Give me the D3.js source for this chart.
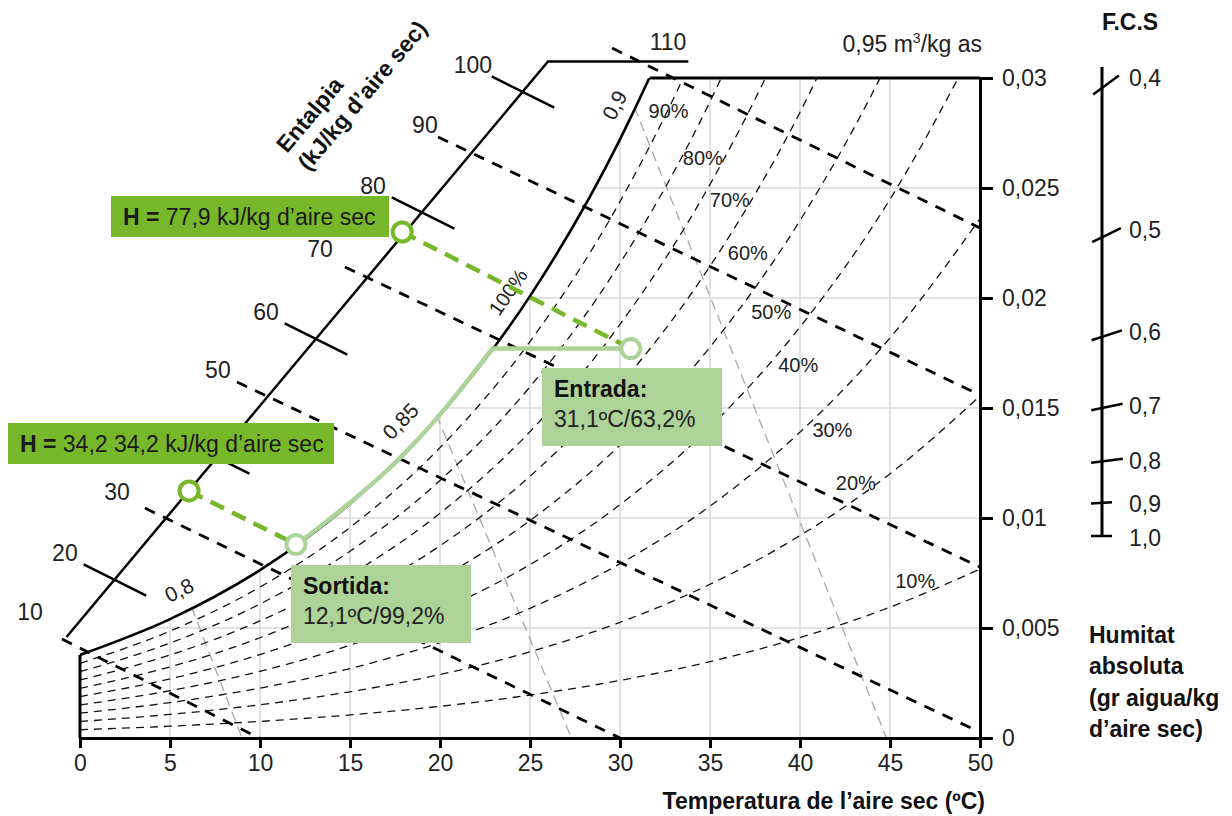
<!DOCTYPE html>
<html>
<head>
<meta charset="utf-8">
<script src="https://cdn.jsdelivr.net/npm/d3@7"></script>
<style>
  body { margin: 0; background: #fff; }
  svg text { font-family: "Liberation Sans", Arial, sans-serif; fill: #222; }
</style>
</head>
<body>
<div id="chart"></div>
<script>
// ---- data ----
var tempSteps = [0, 5, 10, 15, 20, 25, 30, 35, 40, 45, 50];   // ºC

// absolute humidity (kg/kg) of each relative humidity curve at tempSteps
var rhLevels = [10, 20, 30, 40, 50, 60, 70, 80, 90];
var rh10 = [0.000375, 0.000536, 0.000755, 0.001049, 0.001439, 0.001952, 0.002618, 0.003474, 0.004566, 0.005946, 0.007675];
var rh20 = [0.000751, 0.001073, 0.001512, 0.002101, 0.002885, 0.003916, 0.005258, 0.006988, 0.0092, 0.012007, 0.015543];
var rh30 = [0.001128, 0.001611, 0.00227, 0.003157, 0.004338, 0.005893, 0.00792, 0.010541, 0.013903, 0.018186, 0.023609];
var rh40 = [0.001504, 0.00215, 0.003031, 0.004217, 0.005797, 0.007882, 0.010605, 0.014135, 0.018677, 0.024486, 0.031882];
var rh50 = [0.001882, 0.00269, 0.003793, 0.00528, 0.007264, 0.009884, 0.013313, 0.01777, 0.023522, 0.030912, 0.04037];
var rh60 = [0.002259, 0.003231, 0.004557, 0.006347, 0.008737, 0.011898, 0.016045, 0.021446, 0.028442, 0.037467];
var rh70 = [0.002638, 0.003772, 0.005323, 0.007417, 0.010217, 0.013925, 0.0188, 0.025165, 0.033437, 0.044154];
var rh80 = [0.003016, 0.004315, 0.006091, 0.008491, 0.011704, 0.015966, 0.021579, 0.028927, 0.03851];
var rh90 = [0.003395, 0.004859, 0.00686, 0.009569, 0.013198, 0.018019, 0.024382, 0.032734, 0.043661];
var saturation = [0.003775, 0.005403, 0.007632, 0.01065, 0.014699, 0.020086, 0.02721, 0.036585, 0.048894];
var rhSeries = [rh10, rh20, rh30, rh40, rh50, rh60, rh70, rh80, rh90];
// where the % labels sit [ºC, kg/kg]
var rhLabelAt = [[46.4, 0.00714], [43.1, 0.01159], [41.8, 0.0140], [39.9, 0.01695], [38.4, 0.01936],
                 [37.1, 0.02205], [36.1, 0.02445], [34.6, 0.02636], [32.7, 0.0285]];

// specific volume lines (m3/kg), from the saturation curve to the bottom
var volumeValues = [0.8, 0.85, 0.9];
var volumeFrom = [[6.2, 0.00595], [19.8, 0.01468], [30.8, 0.02868]];
var volumeTo = [[9.0, 0], [27.3, 0], [44.8, 0]];
var volumeLabelAt = [[5.5, 0.00673], [17.8, 0.01441], [29.7, 0.02877]];
var volumeLabelAngle = [-26, -46, -62];

// enthalpy scale (kJ/kg)
var enthalpyScaleLine = [[-0.75, 0.00459], [26.0, 0.03075], [33.8, 0.03075]];
var enthalpyValues = [10, 20, 30, 40, 50, 60, 70, 80, 90, 100, 110];
var enthalpyCross = [[-0.78, 0.00459], [1.94, 0.00718], [4.83, 0.00995], [7.67, 0.01273], [10.44, 0.0155],
                     [13.11, 0.01814], [16.11, 0.021], [19.06, 0.02386], [21.94, 0.02664], [24.61, 0.02936], [31.17, 0.03077]];
var enthalpyLineValues = [10, 30, 50, 70, 90, 110];
var enthalpyLineFrom = [[-1.0, 0.0045], [3.61, 0.01045], [8.72, 0.01618], [14.72, 0.02141], [19.89, 0.02732], [29.56, 0.03136]];
var enthalpyLineTo = [[9.95, 0], [30, 0], [49.9, 0.0003], [50, 0.00777], [50, 0.01559], [50, 0.02318]];

// sensible heat factor scale
var fcsValues = [0.4, 0.5, 0.6, 0.7, 0.8, 0.9, 1.0];

// cooling process
var entrada = [30.6, 0.0177];
var sortida = [12.0, 0.0088];
var coolingPath = [[12.0, 0.0088], [13.0, 0.0094], [15.0, 0.0107], [17.5, 0.0125], [20.0, 0.0147], [22.9, 0.0177]];
var enthalpyEntrada = [17.9, 0.0230];   // 77,9 kJ/kg on the scale
var enthalpySortida = [6.06, 0.01123];  // 34,2 kJ/kg on the scale

var xTicks = [0, 5, 10, 15, 20, 25, 30, 35, 40, 45, 50];
var yTicks = [0, 0.005, 0.01, 0.015, 0.02, 0.025, 0.03];
var xGrid = [5, 10, 15, 20, 25, 30, 35, 40, 45];
var yGrid = [0.005, 0.01, 0.015, 0.02, 0.025];

// ---- drawing ----
var width = 1232, height = 816;
var green = "#76b82a", lightGreen = "#aed398";
var fs = 23;

var x = d3.scaleLinear().domain([0, 50]).range([80, 980]);
var y = d3.scaleLinear().domain([0, 0.03]).range([738, 78]);
var fcsY = d3.scalePow().exponent(-1).domain([1, 0.4]).range([536, 88]);

var loc = d3.formatLocale({decimal: ",", thousands: ".", grouping: [3], currency: ["", ""]});
var fmt = loc.format("~g"), fmt1 = loc.format(".1f");

var svg = d3.select("#chart").append("svg")
    .attr("width", width)
    .attr("height", height);
var defs = svg.append("defs");

var pts = function(arr) { return arr.map(function(w, i) { return [tempSteps[i], w]; }); };
var curve = d3.line().x(function(d) { return x(d[0]); }).y(function(d) { return y(d[1]); }).curve(d3.curveMonotoneX);
var straight = d3.line().x(function(d) { return x(d[0]); }).y(function(d) { return y(d[1]); });

defs.append("clipPath").attr("id", "clipRect").append("rect")
    .attr("x", x(0)).attr("y", y(0.03))
    .attr("width", x(50) - x(0)).attr("height", y(0) - y(0.03));
// region under the saturation curve (right of 35 ºC it is above the top of the chart)
var satArea = d3.area().x(function(d) { return x(d[0]); }).y0(y(0) + 5).y1(function(d) { return y(d[1]); }).curve(d3.curveMonotoneX);
var clipSat = defs.append("clipPath").attr("id", "clipSat");
clipSat.append("path").attr("d", satArea(pts(saturation)));
clipSat.append("rect").attr("x", x(35)).attr("y", y(0.04))
    .attr("width", x(50) - x(35) + 20).attr("height", y(0) - y(0.04) + 5);

// grid, only under the saturation curve
var grid = svg.append("g").attr("clip-path", "url(#clipRect)")
  .append("g").attr("clip-path", "url(#clipSat)");
grid.selectAll(".vg").data(xGrid).enter().append("line")
    .attr("x1", function(d) { return x(d); }).attr("x2", function(d) { return x(d); })
    .attr("y1", y(0)).attr("y2", y(0.03))
    .attr("stroke", "#d9d9d9").attr("stroke-width", 1.5);
grid.selectAll(".hg").data(yGrid).enter().append("line")
    .attr("x1", x(0)).attr("x2", x(50))
    .attr("y1", function(d) { return y(d); }).attr("y2", function(d) { return y(d); })
    .attr("stroke", "#d9d9d9").attr("stroke-width", 1.5);

// specific volume lines
svg.append("g").selectAll("line").data(volumeValues).enter().append("line")
    .attr("x1", function(d, i) { return x(volumeFrom[i][0]); })
    .attr("y1", function(d, i) { return y(volumeFrom[i][1]); })
    .attr("x2", function(d, i) { return x(volumeTo[i][0]); })
    .attr("y2", function(d, i) { return y(volumeTo[i][1]); })
    .attr("stroke", "#a8a8a8").attr("stroke-width", 1.3).attr("stroke-dasharray", "10,6");

// relative humidity curves
var rhG = svg.append("g").attr("clip-path", "url(#clipRect)");
rhG.selectAll("path").data(rhSeries).enter().append("path")
    .attr("d", function(d) { return curve(pts(d)); })
    .attr("fill", "none").attr("stroke", "#111")
    .attr("stroke-width", 1.3).attr("stroke-dasharray", "8,6");

// saturation curve
svg.append("g").attr("clip-path", "url(#clipRect)").append("path")
    .attr("d", curve(pts(saturation)))
    .attr("fill", "none").attr("stroke", "#000").attr("stroke-width", 2.6);

// top border right of saturation, left border below it
svg.append("g").attr("clip-path", "url(#clipSat)").append("line")
    .attr("x1", x(0)).attr("x2", x(50)).attr("y1", y(0.03)).attr("y2", y(0.03))
    .attr("stroke", "#000").attr("stroke-width", 3);
svg.append("line")
    .attr("x1", x(0)).attr("x2", x(0)).attr("y1", y(0)).attr("y2", y(saturation[0]))
    .attr("stroke", "#000").attr("stroke-width", 3);

// enthalpy lines (dashed, thick)
svg.append("g").selectAll("line").data(enthalpyLineValues).enter().append("line")
    .attr("x1", function(d, i) { return x(enthalpyLineFrom[i][0]); })
    .attr("y1", function(d, i) { return y(enthalpyLineFrom[i][1]); })
    .attr("x2", function(d, i) { return x(enthalpyLineTo[i][0]); })
    .attr("y2", function(d, i) { return y(enthalpyLineTo[i][1]); })
    .attr("stroke", "#000").attr("stroke-width", 2.8).attr("stroke-dasharray", "11,9");

// enthalpy scale
svg.append("path").attr("d", straight(enthalpyScaleLine))
    .attr("fill", "none").attr("stroke", "#000").attr("stroke-width", 2.5);
var ux = 0.894, uy = 0.447, half = 35;
svg.append("g").selectAll("line")
    .data(enthalpyValues.filter(function(h) { return enthalpyLineValues.indexOf(h) < 0; }))
    .enter().append("line")
    .attr("x1", function(h) { return x(enthalpyCross[enthalpyValues.indexOf(h)][0]) - ux * half; })
    .attr("y1", function(h) { return y(enthalpyCross[enthalpyValues.indexOf(h)][1]) - uy * half; })
    .attr("x2", function(h) { return x(enthalpyCross[enthalpyValues.indexOf(h)][0]) + ux * half; })
    .attr("y2", function(h) { return y(enthalpyCross[enthalpyValues.indexOf(h)][1]) + uy * half; })
    .attr("stroke", "#000").attr("stroke-width", 2.5);
var hOffset = function(h) {
  if (h === 10) return [-36, -25];
  if (h === 110) return [27, -19];
  return [-50, -27];
};
// the 40 label sits under the 34,2 box in the original, so it is not printed
svg.append("g").selectAll("text").data(enthalpyValues.filter(function(h) { return h !== 40; })).enter().append("text")
    .attr("x", function(h) { return x(enthalpyCross[enthalpyValues.indexOf(h)][0]) + hOffset(h)[0]; })
    .attr("y", function(h) { return y(enthalpyCross[enthalpyValues.indexOf(h)][1]) + hOffset(h)[1]; })
    .attr("text-anchor", "middle").attr("dominant-baseline", "central")
    .attr("font-size", fs)
    .text(function(h) { return h; });

// axes
var xAxis = svg.append("g")
    .attr("transform", "translate(0," + y(0) + ")")
    .call(d3.axisBottom(x).tickValues(xTicks).tickSize(10).tickSizeOuter(0).tickPadding(7));
var yAxis = svg.append("g")
    .attr("transform", "translate(" + x(50) + ",0)")
    .call(d3.axisRight(y).tickValues(yTicks).tickSize(13).tickSizeOuter(0).tickPadding(9).tickFormat(fmt));
[xAxis, yAxis].forEach(function(a) {
  a.select(".domain").attr("stroke", "#000").attr("stroke-width", 3);
  a.selectAll(".tick line").attr("stroke", "#000").attr("stroke-width", 3);
  a.selectAll(".tick text").attr("font-size", fs).attr("fill", "#222")
    .attr("font-family", "Liberation Sans, Arial, sans-serif");
});

// curve labels
svg.append("g").selectAll("text").data(rhLevels).enter().append("text")
    .attr("x", function(d, i) { return x(rhLabelAt[i][0]); })
    .attr("y", function(d, i) { return y(rhLabelAt[i][1]); })
    .attr("text-anchor", "middle").attr("dominant-baseline", "central")
    .attr("font-size", 20)
    .text(function(d) { return d + "%"; });
svg.append("text")
    .attr("transform", "translate(" + x(23.78) + "," + y(0.02027) + ") rotate(-55)")
    .attr("text-anchor", "middle").attr("dominant-baseline", "central")
    .attr("font-size", 20).text("100%");
svg.append("g").selectAll("text").data(volumeValues).enter().append("text")
    .attr("transform", function(d, i) {
      return "translate(" + x(volumeLabelAt[i][0]) + "," + y(volumeLabelAt[i][1]) + ") rotate(" + volumeLabelAngle[i] + ")";
    })
    .attr("text-anchor", "middle").attr("dominant-baseline", "central")
    .attr("font-size", 21)
    .text(function(d) { return fmt(d); });
var vol = svg.append("text").attr("x", 982).attr("y", 52)
    .attr("text-anchor", "end").attr("font-size", fs);
vol.append("tspan").text("0,95 m");
vol.append("tspan").attr("font-size", 14).attr("dy", -9).text("3");
vol.append("tspan").attr("dy", 9).text("/kg as");

// titles
svg.append("text").attr("x", 985).attr("y", 809)
    .attr("text-anchor", "end").attr("font-size", fs).attr("font-weight", "bold")
    .style("fill", "#111").text("Temperatura de l\u2019aire sec (\u00baC)");
var hum = svg.append("text").attr("x", 1089).attr("y", 643)
    .attr("font-size", fs).attr("font-weight", "bold").style("fill", "#111");
["Humitat", "absoluta", "(gr aigua/kg", "d\u2019aire sec)"].forEach(function(t, i) {
  hum.append("tspan").attr("x", 1089).attr("dy", i === 0 ? 0 : 31.3).text(t);
});
var ent = svg.append("text").attr("transform", "translate(287,154) rotate(-50)")
    .attr("font-size", fs).attr("font-weight", "bold").style("fill", "#111");
ent.append("tspan").attr("x", 0).text("Entalpia");
ent.append("tspan").attr("x", 0).attr("dy", 28).text("(kJ/kg d\u2019aire sec)");
svg.append("text").attr("x", 1130).attr("y", 30)
    .attr("text-anchor", "middle").attr("font-size", fs).attr("font-weight", "bold")
    .style("fill", "#111").text("F.C.S");

// F.C.S scale
var fx = 1102;
svg.append("line").attr("x1", fx).attr("x2", fx).attr("y1", 67).attr("y2", fcsY(1))
    .attr("stroke", "#000").attr("stroke-width", 3);
var fAng = function(v) { return Math.atan(0.49 * (1 / v - 1)); };
var fRight = function(v) { return v >= 0.9 ? 10 : 21; };
var fcs = svg.append("g").selectAll("g").data(fcsValues).enter().append("g");
fcs.append("line")
    .attr("x1", function(v) { return fx - 11 * Math.cos(fAng(v)); })
    .attr("y1", function(v) { return fcsY(v) + 11 * Math.sin(fAng(v)); })
    .attr("x2", function(v) { return fx + fRight(v) * Math.cos(fAng(v)); })
    .attr("y2", function(v) { return fcsY(v) - fRight(v) * Math.sin(fAng(v)); })
    .attr("stroke", "#000").attr("stroke-width", 2.5);
fcs.append("text")
    .attr("x", 1129)
    .attr("y", function(v) { return fcsY(v) - fRight(v) * Math.sin(fAng(v)) + 2; })
    .attr("dominant-baseline", "central").attr("font-size", fs)
    .text(function(v) { return fmt1(v); });

// cooling process
var proc = svg.append("g");
[[enthalpyEntrada, entrada], [enthalpySortida, sortida]].forEach(function(p) {
  proc.append("line")
      .attr("x1", x(p[0][0])).attr("y1", y(p[0][1]))
      .attr("x2", x(p[1][0])).attr("y2", y(p[1][1]))
      .attr("stroke", green).attr("stroke-width", 4.5).attr("stroke-dasharray", "15,9");
});
proc.append("path")
    .attr("d", curve(coolingPath) + "L" + x(entrada[0]) + "," + y(entrada[1]))
    .attr("fill", "none").attr("stroke", lightGreen).attr("stroke-width", 4.5);
proc.selectAll("circle.h").data([enthalpyEntrada, enthalpySortida]).enter().append("circle")
    .attr("cx", function(d) { return x(d[0]); }).attr("cy", function(d) { return y(d[1]); })
    .attr("r", 9.5).attr("fill", "#fff").attr("stroke", green).attr("stroke-width", 4);
proc.selectAll("circle.s").data([entrada, sortida]).enter().append("circle")
    .attr("cx", function(d) { return x(d[0]); }).attr("cy", function(d) { return y(d[1]); })
    .attr("r", 9.5).attr("fill", "#fff").attr("stroke", lightGreen).attr("stroke-width", 4);

// annotation boxes
function hBox(bx, by, bw, value) {
  svg.append("rect").attr("x", bx).attr("y", by).attr("width", bw).attr("height", 41).attr("fill", green);
  var t = svg.append("text").attr("x", bx + 12).attr("y", by + 29).attr("font-size", fs).style("fill", "#1a1a1a");
  t.append("tspan").attr("font-weight", "bold").text("H = ");
  t.append("tspan").text(value + " kJ/kg d\u2019aire sec");
}
hBox(111, 196, 278, "77,9");
hBox(8, 423, 326, "34,2 34,2");

function stateBox(bx, by, title, value) {
  svg.append("rect").attr("x", bx).attr("y", by).attr("width", 180).attr("height", 78).attr("fill", lightGreen);
  svg.append("text").attr("x", bx + 12).attr("y", by + 29).attr("font-size", fs)
      .attr("font-weight", "bold").style("fill", "#111").text(title);
  svg.append("text").attr("x", bx + 12).attr("y", by + 59).attr("font-size", fs)
      .style("fill", "#222").text(value);
}
stateBox(542, 368, "Entrada:", "31,1\u00baC/63,2%");
stateBox(291, 565, "Sortida:", "12,1\u00baC/99,2%");
</script>
</body>
</html>
